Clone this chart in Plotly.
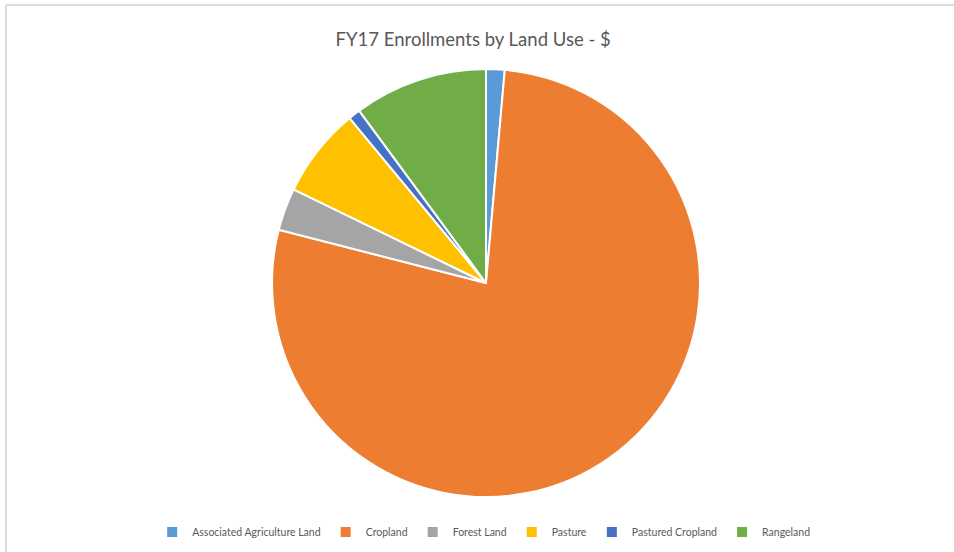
import plotly.graph_objects as go

categories = ["Associated Agriculture Land", "Cropland", "Forest Land", "Pasture", "Pastured Cropland", "Rangeland"]
values = [1.4, 77.6, 3.2, 6.8, 0.9, 10.1]
colors = ["#5B9BD5", "#ED7D31", "#A5A5A5", "#FFC000", "#4472C4", "#70AD47"]
title_text = "FY17 Enrollments by Land Use - $"

W, H = 954, 552
cx, cy, r = 486, 283, 214

fig = go.Figure(go.Pie(
    labels=categories, values=values, sort=False, direction="clockwise", rotation=0,
    marker=dict(colors=colors, line=dict(color="white", width=2)),
    textinfo="none", hoverinfo="label+percent",
    domain=dict(x=[(cx - r) / W, (cx + r) / W], y=[(H - cy - r) / H, (H - cy + r) / H]),
))

fig.update_layout(
    width=W, height=H, margin=dict(l=0, r=0, t=0, b=0),
    paper_bgcolor="white", plot_bgcolor="white",
    font=dict(family="Lato, Open Sans, sans-serif", color="#595959"),
    title=dict(text=title_text, x=0.496, xanchor="center", y=1 - 40 / H, yanchor="middle",
               font=dict(size=18.5, color="#595959", family="Lato, sans-serif")),
    legend=dict(orientation="h", x=0.507, xanchor="center", y=20 / H, yanchor="middle",
                font=dict(size=10.5, color="#595959"), itemwidth=30, traceorder="normal"),
    shapes=[
        dict(type="line", xref="paper", yref="paper", x0=6 / W, x1=1, y0=1 - 5 / H, y1=1 - 5 / H,
             line=dict(color="#D0D0D0", width=1.5)),
        dict(type="line", xref="paper", yref="paper", x0=6 / W, x1=6 / W, y0=0, y1=1 - 5 / H,
             line=dict(color="#D0D0D0", width=1.5)),
    ],
)

fig.write_html("out.html")
